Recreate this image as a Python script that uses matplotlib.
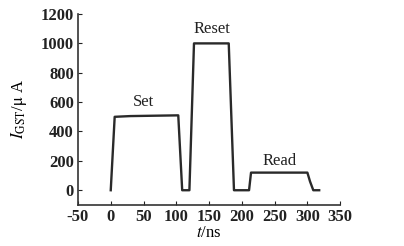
import matplotlib
matplotlib.use("Agg")
import matplotlib.pyplot as plt

# current waveform (t in ns, I in uA)
t_ns = [0, 6, 30, 103, 109, 120, 127, 180, 188, 211, 214, 250, 300, 304, 309, 318]
i_ua = [0, 500, 505, 510, 0, 0, 1000, 1000, 0, 0, 120, 120, 120, 60, 0, 0]

pulse_names = ["Set", "Reset", "Read"]
pulse_t = [50, 155, 257]
pulse_i = [600, 1100, 200]

x_ticks = [-50, 0, 50, 100, 150, 200, 250, 300, 350]
y_ticks = [0, 200, 400, 600, 800, 1000, 1200]

plt.rcParams['font.family'] = ['Liberation Serif', 'DejaVu Serif']
plt.rcParams['mathtext.fontset'] = 'stix'
plt.rcParams['axes.unicode_minus'] = False

fig = plt.figure(figsize=(4.04, 2.46), dpi=100)
ax = fig.add_axes([0.193, 0.167, 0.649, 0.776])

ax.plot(t_ns, i_ua, color='#2a2a2a', lw=1.7)

for name, x, y in zip(pulse_names, pulse_t, pulse_i):
    ax.text(x, y, name, ha='center', va='center', fontsize=12, color='#222222')

ax.set_xlim(-50, 350)
ax.set_ylim(-100, 1200)
ax.set_xticks(x_ticks)
ax.set_yticks(y_ticks)
ax.tick_params(direction='in', length=3, labelsize=12, colors='#222222', pad=3)
for lab in ax.get_xticklabels() + ax.get_yticklabels():
    lab.set_fontweight('bold')
for s in ['top', 'right']:
    ax.spines[s].set_visible(False)
for s in ['left', 'bottom']:
    ax.spines[s].set_color('#333333')
    ax.spines[s].set_linewidth(1.2)

ax.set_xlabel(r'$\mathit{t}$/ns', fontsize=12, labelpad=0)
ax.set_ylabel(r'$\mathit{I}_{\mathrm{GST}}$/$\mathrm{\mu}$ A', fontsize=12, labelpad=8)

fig.savefig('out.png', dpi=100)
